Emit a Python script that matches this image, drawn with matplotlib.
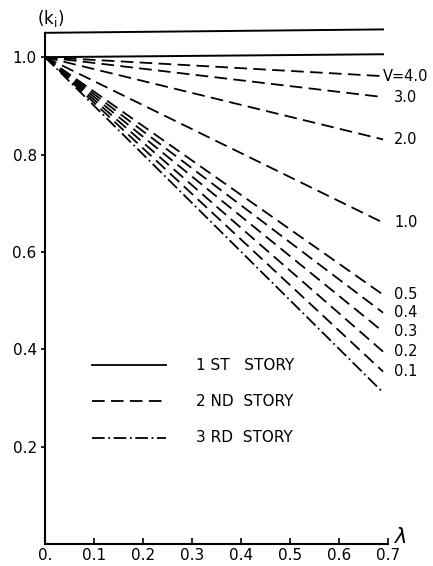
import matplotlib.pyplot as plt
from matplotlib.lines import Line2D

# lambda range of the curves
lam = [0.0, 0.69]

# 1st story (solid)
story1_ends = [1.057, 1.006]
story1_starts = [1.05, 1.0]

# 2nd story (dashed), value at lambda = 0.69 for each V
v_labels = ['V=4.0', '3.0', '2.0', '1.0', '0.5', '0.4', '0.3', '0.2', '0.1']
story2_ends = [0.961, 0.918, 0.831, 0.660, 0.512, 0.475, 0.436, 0.395, 0.354]

# 3rd story (dash-dot)
story3_ends = [0.311]

x_ticks = [0.0, 0.1, 0.2, 0.3, 0.4, 0.5, 0.6, 0.7]
x_ticklabels = ['0.', '0.1', '0.2', '0.3', '0.4', '0.5', '0.6', '0.7']
y_ticks = [0.2, 0.4, 0.6, 0.8, 1.0]
y_ticklabels = ['0.2', '0.4', '0.6', '0.8', '1.0']

plt.rcParams['font.family'] = 'DejaVu Sans'
fig = plt.figure(figsize=(4.33, 5.66), dpi=100)
ax = fig.add_axes([0.104, 0.039, 0.792, 0.903])

for s, e in zip(story1_starts, story1_ends):
    ax.plot(lam, [s, e], color='black', lw=1.4, clip_on=False)

for e in story2_ends:
    ax.plot(lam, [1.0, e], color='black', lw=1.3, dashes=(7, 3.5), clip_on=False)

for e in story3_ends:
    ax.plot(lam, [1.0, e], color='black', lw=1.3, dashes=(7, 2, 1, 2), clip_on=False)

# curve labels
for lab, e in zip(v_labels, story2_ends):
    if lab.startswith('V'):
        ax.text(0.690, e, lab, fontsize=10.5, va='center', ha='left')
    else:
        ax.text(0.713, e, lab, fontsize=10.5, va='center', ha='left')

ax.set_xlim(0, 0.7)
ax.set_ylim(0, 1.05)
ax.spines['top'].set_visible(False)
ax.spines['right'].set_visible(False)
ax.spines['left'].set_linewidth(1.5)
ax.spines['bottom'].set_linewidth(1.5)
ax.set_xticks(x_ticks)
ax.set_xticklabels(x_ticklabels, fontsize=11)
ax.set_yticks(y_ticks)
ax.set_yticklabels(y_ticklabels, fontsize=11)
ax.tick_params(axis='x', direction='in', length=4, width=1.2, pad=3)
ax.tick_params(axis='y', direction='out', length=3, width=1.2, pad=3)

ax.text(-0.016, 1.08, r'(k$_\mathrm{i}$)', fontsize=12, ha='left', va='center')
ax.text(0.712, 0.015, r'$\lambda$', fontsize=15, ha='left', va='center')

# legend drawn by hand
leg_items = [('1 ST   STORY', '-', None),
             ('2 ND  STORY', '--', (7, 3.5)),
             ('3 RD  STORY', '-.', (7, 2, 1, 2))]
for i, (txt, ls, dsh) in enumerate(leg_items):
    y = 0.35 - i * 0.071
    ln = Line2D([0.137, 0.354], [y, y], transform=ax.transAxes, color='black', lw=1.3)
    if dsh is not None:
        ln.set_dashes(dsh)
    ax.add_line(ln)
    ax.text(0.44, y, txt, transform=ax.transAxes, fontsize=11, va='center', ha='left')

fig.savefig('out.png', dpi=100)
